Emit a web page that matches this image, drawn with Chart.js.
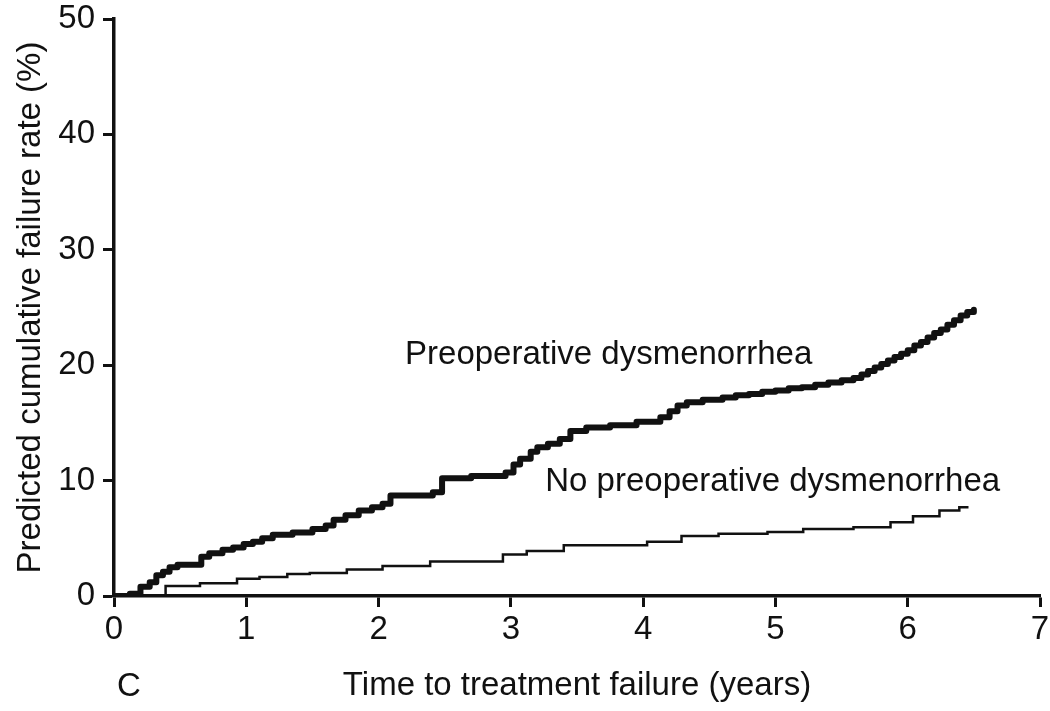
<!DOCTYPE html>
<html>
<head>
<meta charset="utf-8">
<script src="https://cdn.jsdelivr.net/npm/chart.js@4"></script>
<style>
  html, body { margin: 0; padding: 0; background: #fff; }
  #wrap { width: 1050px; height: 711px; }
</style>
</head>
<body>
<div id="wrap"><canvas id="chart" width="1050" height="711"></canvas></div>
<script>
// time (years) at each step and predicted cumulative failure rate (%)
var prepTimes = [0, 0.12, 0.2, 0.27, 0.32, 0.37, 0.42, 0.48, 0.66, 0.72, 0.82, 0.9, 0.98, 1.05, 1.12, 1.2, 1.35, 1.5, 1.6, 1.66, 1.75, 1.85, 1.95, 2.03, 2.09, 2.41, 2.48, 2.7, 2.96, 3.02, 3.07, 3.15, 3.2, 3.28, 3.37, 3.45, 3.57, 3.75, 3.95, 4.13, 4.2, 4.26, 4.33, 4.45, 4.6, 4.7, 4.8, 4.9, 5.0, 5.1, 5.2, 5.3, 5.4, 5.5, 5.59, 5.65, 5.7, 5.75, 5.8, 5.85, 5.9, 5.95, 6.0, 6.05, 6.1, 6.15, 6.2, 6.25, 6.3, 6.35, 6.4, 6.45, 6.5];
var prepRates = [0, 0.2, 0.8, 1.2, 1.8, 2.1, 2.5, 2.7, 3.4, 3.7, 4.0, 4.2, 4.5, 4.7, 5.0, 5.3, 5.5, 5.8, 6.1, 6.6, 7.0, 7.4, 7.7, 8.0, 8.7, 9.0, 10.2, 10.4, 10.7, 11.4, 11.9, 12.5, 12.9, 13.2, 13.6, 14.3, 14.6, 14.8, 15.1, 15.5, 16.0, 16.5, 16.8, 17.0, 17.2, 17.4, 17.5, 17.7, 17.8, 18.0, 18.1, 18.3, 18.5, 18.7, 18.9, 19.2, 19.5, 19.8, 20.1, 20.4, 20.7, 21.0, 21.3, 21.7, 22.0, 22.4, 22.8, 23.1, 23.5, 23.9, 24.3, 24.6, 24.8];

var noPrepTimes = [0, 0.39, 0.65, 0.93, 1.1, 1.31, 1.48, 1.76, 2.03, 2.39, 2.94, 3.12, 3.4, 4.03, 4.29, 4.57, 4.94, 5.21, 5.59, 5.87, 6.04, 6.24, 6.39, 6.45];
var noPrepRates = [0, 0.87, 1.1, 1.5, 1.65, 1.9, 2.0, 2.3, 2.6, 3.0, 3.6, 3.9, 4.4, 4.7, 5.2, 5.4, 5.55, 5.8, 5.95, 6.4, 6.9, 7.4, 7.7, 7.8];

var xTicks = [0, 1, 2, 3, 4, 5, 6, 7];
var yTicks = [0, 10, 20, 30, 40, 50];

var FONT = '"Liberation Sans", Arial, sans-serif';

function toPoints(xs, ys) {
  var pts = [];
  for (var i = 0; i < xs.length; i++) pts.push({ x: xs[i], y: ys[i] });
  return pts;
}

// curve labels and panel letter
var textPlugin = {
  id: 'curveText',
  afterDraw: function (chart) {
    var ctx = chart.ctx;
    var xs = chart.scales.x, ys = chart.scales.y;
    ctx.save();
    ctx.fillStyle = '#111';
    ctx.font = '33px ' + FONT;
    ctx.textBaseline = 'middle';
    ctx.textAlign = 'left';
    ctx.fillText('Preoperative dysmenorrhea', xs.getPixelForValue(2.2), ys.getPixelForValue(20.9));
    ctx.fillText('No preoperative dysmenorrhea', xs.getPixelForValue(3.26), ys.getPixelForValue(9.9));
    ctx.fillText('C', 117, 687);
    ctx.restore();
  }
};

var chart = new Chart(document.getElementById('chart'), {
  type: 'line',
  data: {
    datasets: [{
      label: 'Preoperative dysmenorrhea',
      data: toPoints(prepTimes, prepRates),
      borderColor: '#111',
      borderWidth: 6,
      borderJoinStyle: 'round',
      borderCapStyle: 'round',
      stepped: true,
      pointRadius: 0,
      fill: false
    }, {
      label: 'No preoperative dysmenorrhea',
      data: toPoints(noPrepTimes, noPrepRates),
      borderColor: '#111',
      borderWidth: 2.5,
      stepped: true,
      pointRadius: 0,
      fill: false
    }]
  },
  options: {
    responsive: false,
    animation: false,
    layout: { padding: { top: 19, right: 10, bottom: 0, left: 0 } },
    plugins: { legend: { display: false }, tooltip: { enabled: false } },
    scales: {
      x: {
        type: 'linear',
        min: 0, max: 7,
        afterBuildTicks: function (s) { s.ticks = xTicks.map(function (v) { return { value: v }; }); },
        afterFit: function (s) { s.height = 115; s.paddingLeft = 0; s.paddingRight = 0; },
        grid: { drawOnChartArea: false, drawTicks: true, tickLength: 11, tickWidth: 3, tickColor: '#111' },
        border: { display: true, color: '#111', width: 3.5 },
        ticks: { color: '#111', padding: 6, font: { family: FONT, size: 33, lineHeight: 1 } },
        title: { display: true, text: 'Time to treatment failure (years)', color: '#111', padding: { top: 0, bottom: 5 }, font: { family: FONT, size: 33 } }
      },
      y: {
        type: 'linear',
        min: 0, max: 50,
        afterBuildTicks: function (s) { s.ticks = yTicks.map(function (v) { return { value: v }; }); },
        afterFit: function (s) { s.width = 114; s.paddingTop = 0; s.paddingBottom = 0; },
        grid: { drawOnChartArea: false, drawTicks: true, tickLength: 11, tickWidth: 3, tickColor: '#111' },
        border: { display: true, color: '#111', width: 3.5 },
        ticks: { color: '#111', padding: 8, font: { family: FONT, size: 33, lineHeight: 1 } },
        title: { display: true, text: 'Predicted cumulative failure rate (%)', color: '#111', padding: { top: 11, bottom: 0 }, font: { family: FONT, size: 33 } }
      }
    }
  },
  plugins: [textPlugin]
});
</script>
</body>
</html>
